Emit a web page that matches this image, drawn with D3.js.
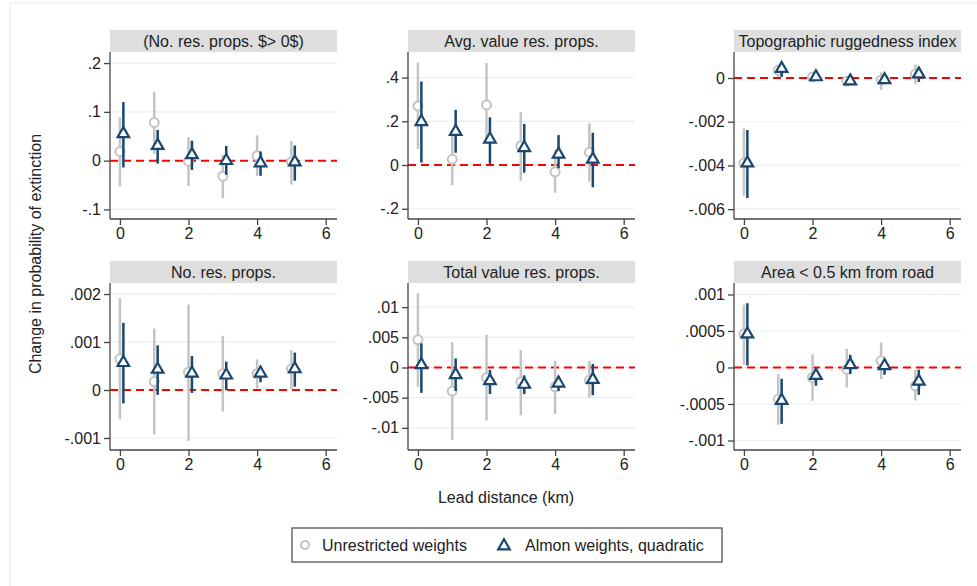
<!DOCTYPE html>
<html>
<head>
<meta charset="utf-8">
<script src="https://cdn.jsdelivr.net/npm/d3@7"></script>
<style>
  body { margin: 0; background: #fff; }
  text { font-family: "Liberation Sans", Arial, sans-serif; fill: #222; }
</style>
</head>
<body>
<div id="chart"></div>
<script>
var width = 977, height = 586;

// lead distances (km)
var leads = [0, 1, 2, 3, 4, 5];
var almonShift = 0.1;

var panelTitles = [
  '(No. res. props. $> 0$)', 'Avg. value res. props.', 'Topographic ruggedness index',
  'No. res. props.', 'Total value res. props.', 'Area < 0.5 km from road'
];

var yTicks = [
  [-0.1, 0, 0.1, 0.2],
  [-0.2, 0, 0.2, 0.4],
  [-0.006, -0.004, -0.002, 0],
  [-0.001, 0, 0.001, 0.002],
  [-0.01, -0.005, 0, 0.005, 0.01],
  [-0.001, -0.0005, 0, 0.0005, 0.001]
];

var yDomains = [
  [-0.1196, 0.2227],
  [-0.247, 0.517],
  [-0.00645, 0.00119],
  [-0.00125, 0.00223],
  [-0.01367, 0.014],
  [-0.00113, 0.001157]
];

// unrestricted weights: estimate, lower, upper
var unrEst = [
  [0.0186, 0.078, -0.001, -0.032, 0.010, -0.003],
  [0.270, 0.026, 0.275, 0.087, -0.031, 0.058],
  [-0.00389, 0.00035, 0.00005, -0.00015, -0.0001, 0.00018],
  [0.00065, 0.000175, 0.00037, 0.00034, 0.00034, 0.00044],
  [0.00458, -0.0039, -0.0017, -0.0024, -0.0032, -0.0021],
  [0.000457, -0.000434, -0.000137, -0.000023, 0.000091, -0.000251]
];
var unrLo = [
  [-0.053, 0.014, -0.052, -0.077, -0.031, -0.049],
  [0.073, -0.092, 0.107, -0.072, -0.127, -0.076],
  [-0.00538, 0.00005, -0.00003, -0.00026, -0.00054, -0.00028],
  [-0.00061, -0.00092, -0.00106, -0.00045, 0.00003, 0.00002],
  [-0.0032, -0.012, -0.0088, -0.0079, -0.0077, -0.005],
  [0.000037, -0.000785, -0.000457, -0.000274, -0.00016, -0.000452]
];
var unrHi = [
  [0.089, 0.141, 0.048, 0.012, 0.052, 0.040],
  [0.469, 0.145, 0.466, 0.241, 0.069, 0.191],
  [-0.00231, 0.00054, 0.00011, -0.00004, 0.00026, 0.00062],
  [0.00192, 0.00128, 0.00178, 0.00113, 0.00064, 0.00083],
  [0.0123, 0.0042, 0.0054, 0.0029, 0.0011, 0.0011],
  [0.00086, -0.00009, 0.00018, 0.000256, 0.000342, -0.00003]
];

// Almon weights, quadratic: estimate, lower, upper
var almEst = [
  [0.055, 0.031, 0.012, 0.000, -0.005, -0.003],
  [0.198, 0.153, 0.118, 0.079, 0.049, 0.026],
  [-0.00389, 0.00043, 0.00005, -0.00014, -0.00008, 0.00018],
  [0.00057, 0.00043, 0.00035, 0.00031, 0.00035, 0.00044],
  [0.00045, -0.0012, -0.0022, -0.0028, -0.0026, -0.002],
  [0.000457, -0.000452, -0.00011, 0.000037, 0.000023, -0.00019]
];
var almLo = [
  [-0.014, -0.006, -0.019, -0.029, -0.031, -0.041],
  [0.011, 0.056, 0.005, -0.035, -0.015, -0.102],
  [-0.00549, 0.00005, -0.00008, -0.00031, -0.00026, -0.00018],
  [-0.00028, -0.0001, -0.00006, 0.0, 0.00016, 0.00007],
  [-0.0042, -0.0039, -0.0044, -0.0044, -0.0039, -0.0046],
  [0.000027, -0.000772, -0.00025, -0.00009, -0.0001, -0.000374]
];
var almHi = [
  [0.120, 0.063, 0.041, 0.030, 0.019, 0.031],
  [0.382, 0.252, 0.218, 0.188, 0.137, 0.148],
  [-0.00238, 0.00072, 0.00015, 0.0, 0.00008, 0.00046],
  [0.0014, 0.00093, 0.00071, 0.00059, 0.0005, 0.00078],
  [0.004, 0.0015, -0.0004, -0.0013, -0.0014, 0.0006],
  [0.00088, -0.000155, 0.0, 0.000174, 0.00009, -0.00003]
];

var xTicks = [0, 2, 4, 6];
var xDomain = [-0.29, 6.33];

var colLeft = [110, 408, 734], rowTop = [52, 283];
var plotW = 227, plotH = 167, titleH = 22;
var grey = '#c4c4c4', navy = '#1a476f';

var svg = d3.select('#chart')
  .append('svg')
  .attr('width', width)
  .attr('height', height);

svg.append('rect')
  .attr('x', 10).attr('y', 3)
  .attr('width', 990).attr('height', 620)
  .attr('fill', 'none')
  .attr('stroke', '#e6eef0');

function fmt(v) {
  return String(v).replace('0.', '.');
}

panelTitles.forEach(function (title, p) {
  var left = colLeft[p % 3], top = rowTop[Math.floor(p / 3)];
  var g = svg.append('g').attr('transform', 'translate(' + left + ',' + top + ')');

  var xScale = d3.scaleLinear().domain(xDomain).range([0, plotW]);
  var yScale = d3.scaleLinear().domain(yDomains[p]).range([plotH, 0]);

  // title strip
  g.append('rect')
    .attr('x', 0).attr('y', -titleH)
    .attr('width', plotW).attr('height', titleH)
    .attr('fill', '#dedede');
  g.append('text')
    .attr('x', plotW / 2).attr('y', -5.5)
    .attr('text-anchor', 'middle')
    .style('font-size', '16px')
    .text(title);

  // grid
  g.selectAll('.grid')
    .data(yTicks[p])
    .enter()
    .append('line')
    .attr('x1', 0).attr('x2', plotW)
    .attr('y1', function (d) { return yScale(d); })
    .attr('y2', function (d) { return yScale(d); })
    .attr('stroke', '#e8f0f2')
    .attr('stroke-width', 1.2);

  // zero line
  g.append('line')
    .attr('x1', 0).attr('x2', plotW)
    .attr('y1', yScale(0)).attr('y2', yScale(0))
    .attr('stroke', '#f00')
    .attr('stroke-width', 2)
    .attr('stroke-dasharray', '8,5');

  // axes
  var yAxis = d3.axisLeft(yScale).tickValues(yTicks[p]).tickFormat(fmt).tickSize(6).tickPadding(3);
  var xAxis = d3.axisBottom(xScale).tickValues(xTicks).tickFormat(d3.format('d')).tickSize(6).tickPadding(3);

  var yAxisG = g.append('g').attr('class', 'axis').call(yAxis);
  yAxisG.select('.domain').attr('d', 'M0,0V' + plotH);
  var xAxisG = g.append('g').attr('class', 'axis')
    .attr('transform', 'translate(0,' + plotH + ')')
    .call(xAxis);
  xAxisG.select('.domain').attr('d', 'M0,0H' + plotW);

  svg.selectAll('.axis path, .axis line').attr('stroke', '#444').attr('stroke-width', 1.3);
  svg.selectAll('.axis text')
    .style('font-size', '16px')
    .style('font-family', '"Liberation Sans", Arial, sans-serif')
    .attr('fill', '#222');

  // unrestricted
  g.selectAll('.unrCi')
    .data(leads)
    .enter()
    .append('line')
    .attr('x1', function (d) { return xScale(d); })
    .attr('x2', function (d) { return xScale(d); })
    .attr('y1', function (d, i) { return yScale(unrLo[p][i]); })
    .attr('y2', function (d, i) { return yScale(unrHi[p][i]); })
    .attr('stroke', grey)
    .attr('stroke-width', 2.5);
  g.selectAll('.unrPt')
    .data(leads)
    .enter()
    .append('circle')
    .attr('cx', function (d) { return xScale(d); })
    .attr('cy', function (d, i) { return yScale(unrEst[p][i]); })
    .attr('r', 4.5)
    .attr('fill', '#fff')
    .attr('stroke', grey)
    .attr('stroke-width', 2);

  // Almon
  g.selectAll('.almCi')
    .data(leads)
    .enter()
    .append('line')
    .attr('x1', function (d) { return xScale(d + almonShift); })
    .attr('x2', function (d) { return xScale(d + almonShift); })
    .attr('y1', function (d, i) { return yScale(almLo[p][i]); })
    .attr('y2', function (d, i) { return yScale(almHi[p][i]); })
    .attr('stroke', navy)
    .attr('stroke-width', 2.5);
  g.selectAll('.almPt')
    .data(leads)
    .enter()
    .append('path')
    .attr('d', d3.symbol().type(d3.symbolTriangle).size(58))
    .attr('transform', function (d, i) {
      return 'translate(' + xScale(d + almonShift) + ',' + yScale(almEst[p][i]) + ')';
    })
    .attr('fill', '#fff')
    .attr('stroke', navy)
    .attr('stroke-width', 2.2);
});

// axis titles
svg.append('text')
  .attr('transform', 'translate(41,254) rotate(-90)')
  .attr('text-anchor', 'middle')
  .style('font-size', '16px')
  .text('Change in probability of extinction');

svg.append('text')
  .attr('x', 506).attr('y', 503)
  .attr('text-anchor', 'middle')
  .style('font-size', '16px')
  .text('Lead distance (km)');

// legend
var legend = svg.append('g');
legend.append('rect')
  .attr('x', 292).attr('y', 528)
  .attr('width', 430).attr('height', 34)
  .attr('fill', '#fff')
  .attr('stroke', '#444')
  .attr('stroke-width', 1.2);
legend.append('circle')
  .attr('cx', 305).attr('cy', 545).attr('r', 4)
  .attr('fill', '#fff').attr('stroke', grey).attr('stroke-width', 2);
legend.append('text')
  .attr('x', 322).attr('y', 551)
  .style('font-size', '16px')
  .text('Unrestricted weights');
legend.append('path')
  .attr('d', d3.symbol().type(d3.symbolTriangle).size(58))
  .attr('transform', 'translate(504,546)')
  .attr('fill', '#fff').attr('stroke', navy).attr('stroke-width', 2.2);
legend.append('text')
  .attr('x', 525).attr('y', 551)
  .style('font-size', '16px')
  .text('Almon weights, quadratic');
</script>
</body>
</html>
